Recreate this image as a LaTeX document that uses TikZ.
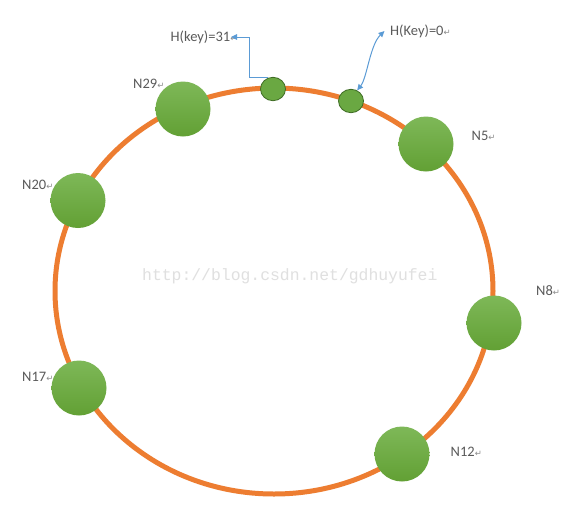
\documentclass[tikz,border=0pt]{standalone}
\usepackage{fontspec}
\setmainfont{Carlito}
\newfontfamily\symfont{DejaVu Sans}
\newfontfamily\wmfont{Liberation Mono}
\usetikzlibrary{arrows.meta,shapes.geometric}
\definecolor{ringorange}{RGB}{237,125,49}
\definecolor{gtop}{RGB}{126,184,88}
\definecolor{gbot}{RGB}{98,160,52}
\definecolor{sfill}{RGB}{106,168,66}
\definecolor{sedge}{RGB}{62,108,36}
\definecolor{linkblue}{RGB}{91,155,213}
\definecolor{txt}{RGB}{90,90,90}
\definecolor{wm}{RGB}{224,224,224}
\newcommand{\retmark}{{\symfont\fontsize{8.5}{9}\selectfont\color{txt!70}↵}}
\tikzset{
  bigc/.style={circle, minimum size=55pt, inner sep=0pt, top color=gtop, bottom color=gbot, draw=none},
  smallc/.style={ellipse, minimum width=25pt, minimum height=23.4pt, inner sep=0pt, fill=sfill, draw=sedge, line width=0.8pt},
  lbl/.style={anchor=base west, inner sep=0pt, text=txt, font=\fontsize{14.5}{17}\selectfont},
  conn/.style={draw=linkblue, line width=1pt},
  myTip/.tip={Triangle[length=6pt,width=5.5pt]}
}
\begin{document}
\begin{tikzpicture}[x=1pt,y=-1pt]
\useasboundingbox (0,0) rectangle (565,531);
\fill[white] (0,0) rectangle (565,531);
% watermark
\node[anchor=base west, inner sep=0pt, text=wm, font=\wmfont\fontsize{16.4}{18}\selectfont] (wmk) at (142,280) {http://blog.csdn.net/gdhuyufei};
% ring
\draw[ringorange, line width=5pt] (274,291) ellipse [x radius=219, y radius=203];
% big nodes
\node[bigc] (n29) at (183,109) {};
\node[bigc] (n20) at (78,200.5) {};
\node[bigc] (n17) at (79,388) {};
\node[bigc] (n12) at (402,454) {};
\node[bigc] (n8) at (494,323) {};
\node[bigc] (n5) at (426,144) {};
% small key nodes
\node[smallc] (e1) at (273,89) {};
\node[smallc] (e2) at (351,101) {};
% labels
\node[lbl] (l29) at (133,88.3) {N29\retmark};
\node[lbl] (l20) at (22,189.3) {N20\retmark};
\node[lbl] (l5) at (471.5,140) {N5\retmark};
\node[lbl] (l8) at (536,295.3) {N8\retmark};
\node[lbl] (l17) at (22,381) {N17\retmark};
\node[lbl] (l12) at (450.5,456) {N12\retmark};
\node[lbl] (k31) at (170.5,41.7) {H(key)=31\retmark};
\node[lbl] (k0) at (390,35.7) {H(Key)=0\retmark};
% connectors
\coordinate (bend) at (249,37);
\coordinate (c31) at (231,37);
\draw[conn, -{myTip}] (e1.115) -| (bend) -- (c31);
\coordinate (c0) at (384.5,31);
\draw[conn, {myTip}-{myTip}] (e2.60) .. controls (367,78) and (370,45) .. (c0);
\end{tikzpicture}
\end{document}
